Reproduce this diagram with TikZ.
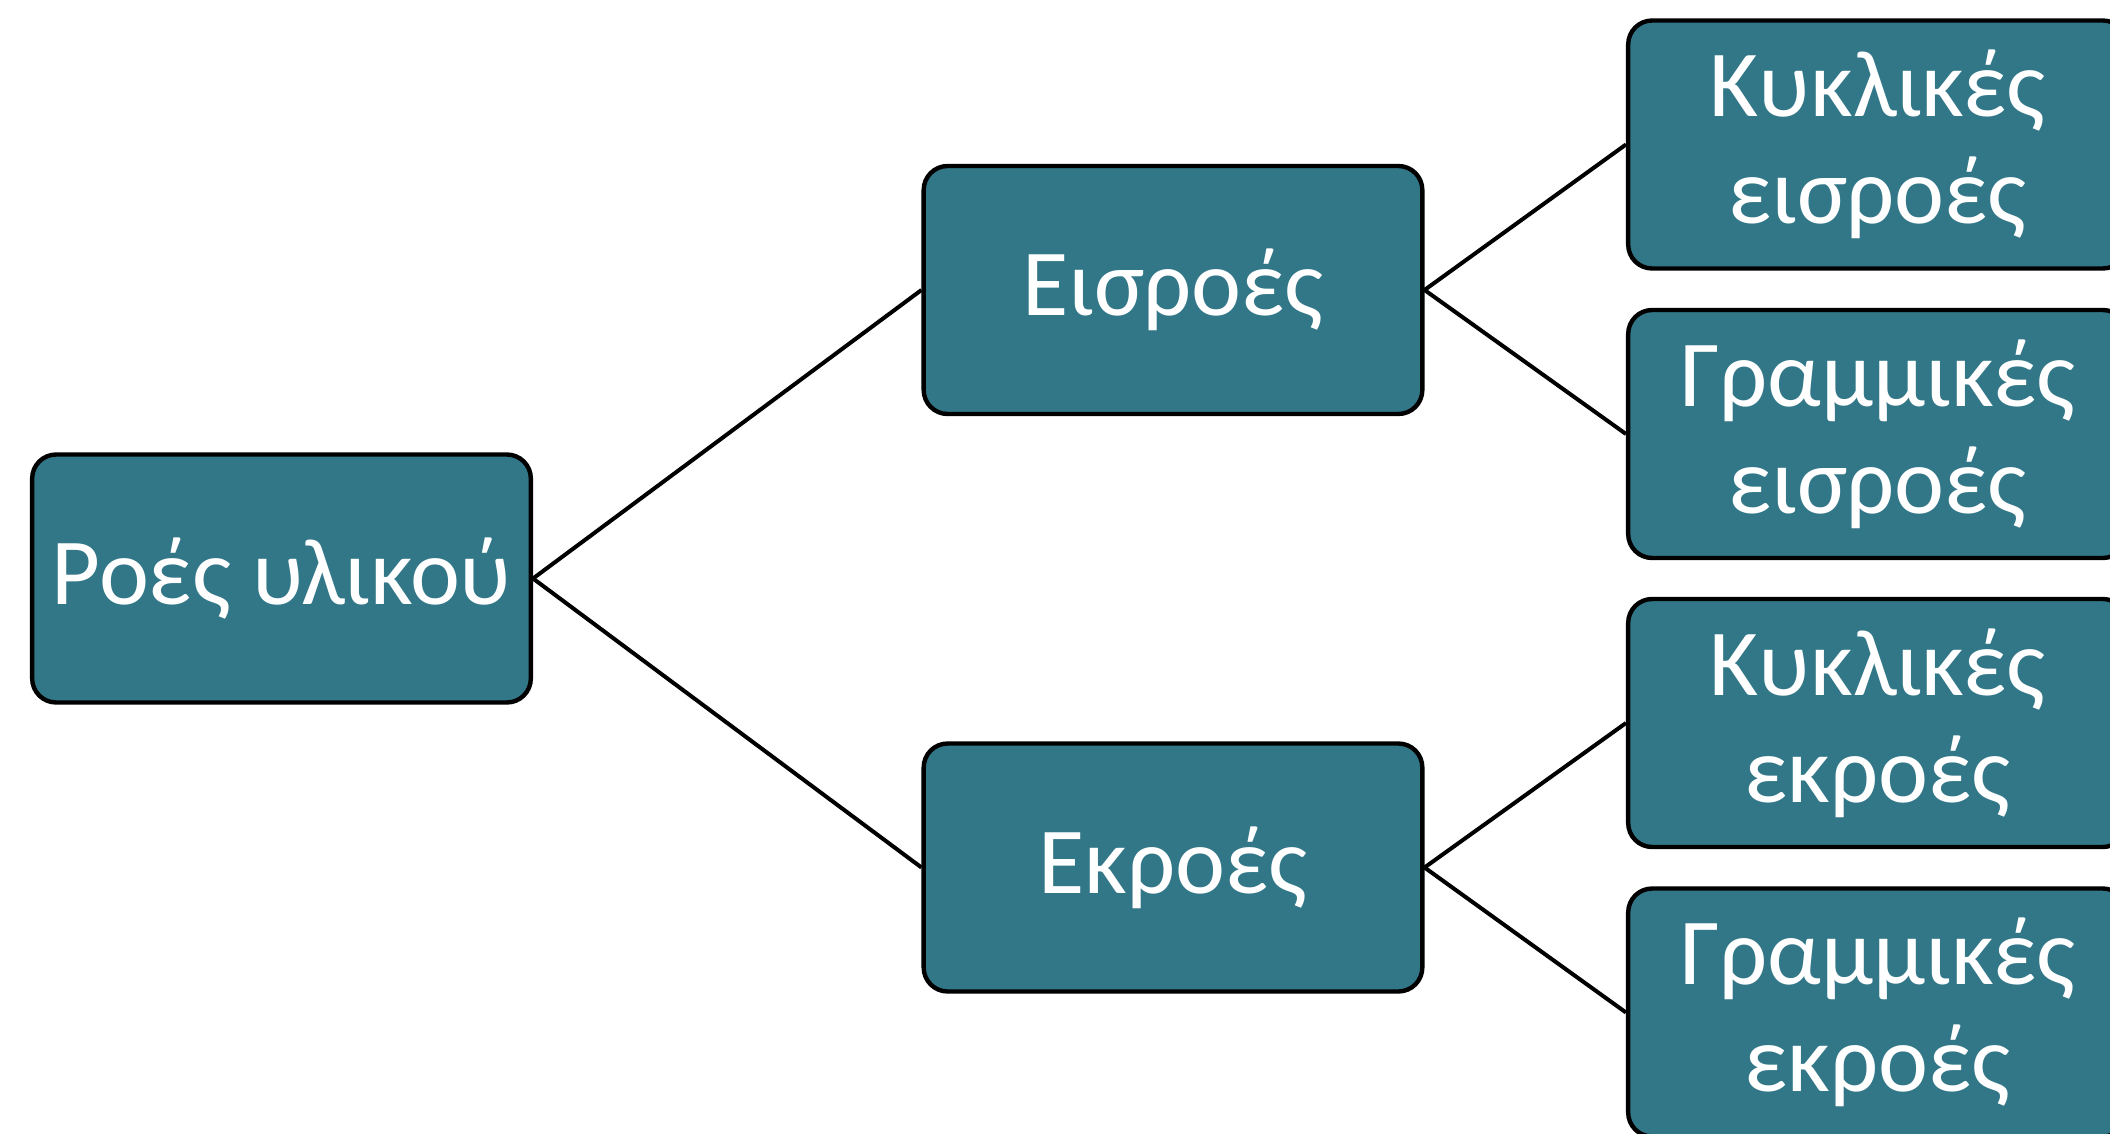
\documentclass[tikz,border=0pt]{standalone}
\usepackage{fontspec}
\setmainfont{Carlito}
\definecolor{boxteal}{RGB}{50,119,135}
\begin{document}
\begin{tikzpicture}[x=0.75pt,y=-0.75pt,
  box/.style={draw=black, line width=3.3pt, fill=boxteal, rounded corners=18pt,
    minimum width=374pt, minimum height=186pt, text=white, align=center,
    inner sep=0pt, font=\fontsize{71}{80}\selectfont},
  link/.style={draw=black, line width=3pt}]
\useasboundingbox (0,0) rectangle (2110,1134);
\clip (0,0) rectangle (2110,1134);
\node[box] (root) at (281.5,578.5) {Ροές υλικού};
\node[box] (in) at (1173,290) {Εισροές};
\node[box] (out) at (1173,867.5) {Εκροές};
\node[box] (inc) at (1877.5,144.5) {Κυκλικές\\εισροές};
\node[box] (inl) at (1877.5,434) {Γραμμικές\\εισροές};
\node[box] (outc) at (1877.5,723) {Κυκλικές\\εκροές};
\node[box] (outl) at (1877.5,1012.5) {Γραμμικές\\εκροές};
\draw[link] (root.east) -- (in.west);
\draw[link] (root.east) -- (out.west);
\draw[link] (in.east) -- (inc.west);
\draw[link] (in.east) -- (inl.west);
\draw[link] (out.east) -- (outc.west);
\draw[link] (out.east) -- (outl.west);
\end{tikzpicture}
\end{document}
